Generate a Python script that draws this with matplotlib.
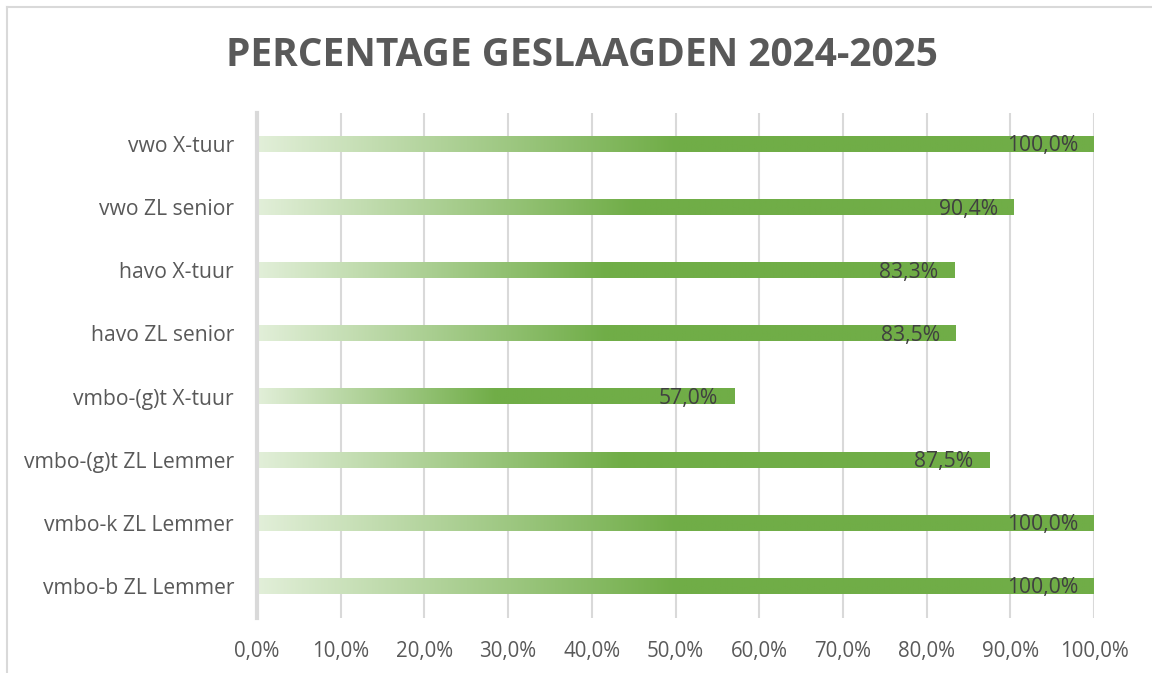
import matplotlib
matplotlib.use("Agg")
import matplotlib.pyplot as plt
import numpy as np
from matplotlib.colors import to_rgb
from matplotlib.lines import Line2D

categories = ["vwo X-tuur", "vwo ZL senior", "havo X-tuur", "havo ZL senior",
              "vmbo-(g)t X-tuur", "vmbo-(g)t ZL Lemmer", "vmbo-k ZL Lemmer", "vmbo-b ZL Lemmer"]
values = [100.0, 90.4, 83.3, 83.5, 57.0, 87.5, 100.0, 100.0]
xticks = [0, 10, 20, 30, 40, 50, 60, 70, 80, 90, 100]
title = "PERCENTAGE GESLAAGDEN 2024-2025"

def fmt(v):
    return f"{v:.1f}".replace(".", ",") + "%"

plt.rcParams['font.family'] = ['Open Sans', 'DejaVu Sans']

W, H = 1152, 673
fig = plt.figure(figsize=(W / 100, H / 100), dpi=100)
fig.patch.set_facecolor("white")

# outer border (left and top visible)
fig.add_artist(Line2D([7 / W, 7 / W], [0, 1 - 7 / H], transform=fig.transFigure, color="#D9D9D9", lw=1.5))
fig.add_artist(Line2D([7 / W, 1], [1 - 7 / H, 1 - 7 / H], transform=fig.transFigure, color="#D9D9D9", lw=1.5))

left, right = 257 / W, 1094 / W
top, bottom = 1 - 112.5 / H, 1 - 617.5 / H
ax = fig.add_axes([left, bottom, right - left, top - bottom])

n = len(categories)
ypos = np.arange(n)

light = np.array(to_rgb("#E2EFD9"))
green = np.array(to_rgb("#70AD47"))
bh = 0.25
N = 400
t = np.linspace(0, 1, N)
f = np.clip(t / 0.5, 0, 1)
grad = (light[None, :] * (1 - f[:, None]) + green[None, :] * f[:, None])[None, :, :]

for y, v in zip(ypos, values):
    ax.imshow(grad, extent=(0, v, y + bh / 2, y - bh / 2), aspect="auto",
              interpolation="bilinear", zorder=3)
    ax.text(v - 1.9, y + 0.03, fmt(v), ha="right", va="center", fontsize=15.2,
            color="#404040", zorder=4)

ax.set_ylim(n - 0.5, -0.5)
ax.set_xlim(0, 100)
ax.set_xticks(xticks)
ax.set_xticklabels([fmt(x) for x in xticks], fontsize=14.8, color="#595959")
ax.set_yticks(ypos)
ax.set_yticklabels(categories, fontsize=15.2, color="#595959")
ax.tick_params(axis="both", length=0)
ax.tick_params(axis="x", pad=17)
ax.tick_params(axis="y", pad=16.5)
ax.grid(axis="x", color="#D9D9D9", lw=1.5, zorder=0)
ax.set_axisbelow(True)
for s in ["top", "right", "bottom"]:
    ax.spines[s].set_visible(False)
ax.spines["left"].set_color("#D9D9D9")
ax.spines["left"].set_linewidth(3)
ax.spines["left"].set_zorder(5)

fig.text(582 / W, 1 - 55 / H, title, ha="center", va="center", fontsize=28,
         fontweight="bold", color="#595959")

fig.savefig("out.png", dpi=100)
